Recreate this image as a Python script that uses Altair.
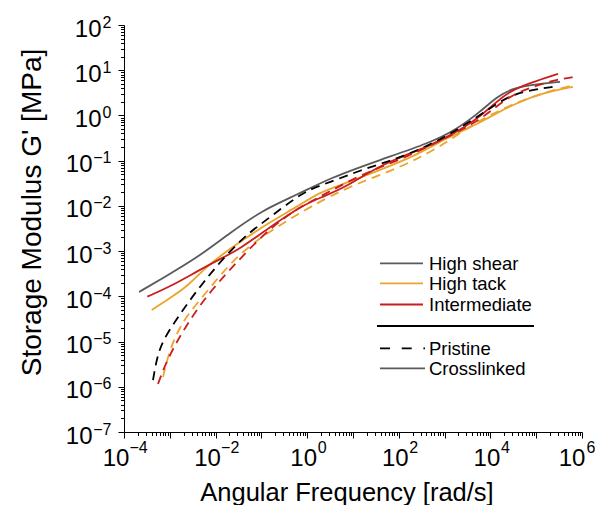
import altair as alt
import pandas as pd

# ---- data (Angular frequency [rad/s], G' [MPa]) ----
hs_cross_x = [2.13e-4, 7.11e-4, 3.93e-3, 2.06e-2, 0.108, 0.598, 3.15, 38.9, 480, 1774, 5929, 13930, 31120, 121100, 331100]
hs_cross_y = [1.25e-4, 2.55e-4, 7.08e-4, 2.53e-3, 8.17e-3, 1.75e-2, 4.16e-2, 0.104, 0.248, 0.480, 1.20, 2.58, 4.08, 5.00, 5.53]

hs_pris_x = [4.30e-4, 5.26e-4, 7.11e-4, 1.51e-3, 2.76e-3, 5.31e-3, 1.25e-2, 3.96e-2, 8.02e-2, 0.179, 0.421, 1.04, 2.84, 20.2, 123.6, 794, 2168, 7621, 26790, 85110, 232800]
hs_pris_y = [1.41e-6, 4.56e-6, 1.08e-5, 3.50e-5, 8.32e-5, 1.98e-4, 5.77e-4, 1.96e-3, 3.43e-3, 6.32e-3, 1.22e-2, 2.26e-2, 3.23e-2, 6.93e-2, 0.121, 0.288, 0.532, 1.20, 2.86, 3.68, 4.30]

ht_cross_x = [4.03e-4, 1.01e-3, 2.38e-3, 7.55e-3, 3.41e-2, 0.154, 0.598, 1.90, 7.40, 38.9, 204, 1127, 5929, 31120, 172200, 635300]
ht_cross_y = [5.00e-5, 9.23e-5, 1.61e-4, 5.48e-4, 1.60e-3, 4.43e-3, 9.51e-3, 2.04e-2, 3.23e-2, 6.25e-2, 0.121, 0.319, 0.685, 1.81, 3.33, 4.30]

ht_pris_x = [7.11e-4, 9.62e-4, 1.44e-3, 2.26e-3, 4.56e-3, 1.13e-2, 2.28e-2, 6.56e-2, 0.255, 1.15, 8.59, 106, 794, 2931, 9795, 44260, 200000, 703100]
ht_pris_y = [1.65e-6, 5.89e-6, 1.55e-5, 3.50e-5, 8.32e-5, 2.55e-4, 5.77e-4, 1.52e-3, 3.80e-3, 9.51e-3, 2.77e-2, 6.93e-2, 0.202, 0.506, 1.03, 2.10, 3.50, 4.75]

int_cross_x = [3.23e-4, 1.01e-3, 3.93e-3, 1.25e-2, 3.41e-2, 0.154, 0.895, 2.21, 8.59, 38.9, 480, 1524, 4169, 9795, 24210, 73280, 299200]
int_cross_y = [9.84e-5, 1.64e-4, 3.56e-4, 6.71e-4, 1.12e-3, 3.43e-3, 1.11e-2, 1.58e-2, 2.92e-2, 8.07e-2, 0.212, 0.392, 0.721, 1.47, 3.33, 5.26, 8.32]

int_pris_x = [5.52e-4, 7.85e-4, 1.30e-3, 2.15e-3, 4.13e-3, 8.34e-3, 1.77e-2, 3.41e-2, 9.33e-2, 0.255, 0.697, 1.90, 14.2, 106, 794, 3589, 9795, 26790, 73280, 257000, 703100]
int_pris_y = [1.15e-6, 3.03e-6, 8.41e-6, 2.00e-5, 5.53e-5, 1.39e-4, 3.30e-4, 6.71e-4, 1.96e-3, 4.66e-3, 9.51e-3, 1.58e-2, 4.85e-2, 0.104, 0.274, 0.589, 1.20, 2.72, 4.08, 6.14, 7.14]

series_names = ["High shear", "High tack", "Intermediate"]
variant_names = ["Pristine", "Crosslinked"]

# tick labels: base "10" and exponent per decade ('' = no label)
tick_base = "10"
x_tick_exps = ["−4", "", "−2", "", "0", "", "2", "", "4", "", "6"]   # 1e-4 .. 1e6
y_tick_exps = ["−7", "−6", "−5", "−4", "−3", "−2", "−1", "0", "1", "2"]  # 1e-7 .. 1e2

# ---- styling ----
GRAY = "#5a5a5a"
ORANGE = "#EBA42C"
RED = "#CC1D1D"
FONT = "Liberation Sans"

rows = []
def add(series, variant, xs, ys):
    for i, (a, b) in enumerate(zip(xs, ys)):
        rows.append({"x": a, "y": b, "series": series, "variant": variant,
                     "key": series + "|" + variant, "i": i})

add("High shear", "Crosslinked", hs_cross_x, hs_cross_y)
add("High tack", "Crosslinked", ht_cross_x, ht_cross_y)
add("Intermediate", "Crosslinked", int_cross_x, int_cross_y)
add("High shear", "Pristine", hs_pris_x, hs_pris_y)
add("High tack", "Pristine", ht_pris_x, ht_pris_y)
add("Intermediate", "Pristine", int_pris_x, int_pris_y)
df = pd.DataFrame(rows)

keys = ["High shear|Crosslinked", "High tack|Crosslinked", "Intermediate|Crosslinked",
        "High shear|Pristine", "High tack|Pristine", "Intermediate|Pristine"]
key_colors = [GRAY, ORANGE, RED, "black", ORANGE, RED]
color_enc = alt.Color("key:N", scale=alt.Scale(domain=keys, range=key_colors), legend=None)

x_major = [10.0 ** k for k in range(-4, 7)]
x_minor = [m * 10.0 ** k for k in range(-4, 6) for m in range(2, 10)]
y_major = [10.0 ** k for k in range(-7, 3)]
y_minor = [m * 10.0 ** k for k in range(-7, 2) for m in range(2, 10)]

def expr_for(start_exp, labels, base=False):
    expr = "''"
    for j in reversed(range(len(labels))):
        txt = labels[j]
        if base and txt:
            txt = tick_base
        expr = "(round(log(datum.value)/LN10) == %d ? '%s' : %s)" % (start_exp + j, txt, expr)
    return expr

NEG = "datum.value < 0.999"
LAST = "datum.value > 1e5"

xscale = alt.Scale(type="log", domain=[1e-4, 1e6], nice=False)
yscale = alt.Scale(type="log", domain=[1e-7, 1e2], nice=False)

common = dict(grid=False, domainColor="black", tickColor="black", labelColor="black",
              titleColor="black", labelFont=FONT, titleFont=FONT, titleFontWeight="normal",
              tickWidth=1, domainWidth=1, labelFlush=False, labelOverlap=False)

# base axes ("10", major ticks, titles)
x_base_axis = alt.Axis(values=x_major, labelExpr=expr_for(-4, x_tick_exps, True), tickSize=6,
                       orient="bottom", title="Angular Frequency [rad/s]", titleFontSize=25.5,
                       titleBaseline="alphabetic", titleY=68, titleX=222.5,
                       labelFontSize=24, labelPadding=8, labelAlign="center",
                       labelOffset={"condition": [{"test": NEG, "value": -8.5},
                                                  {"test": LAST, "value": -10.5}],
                                    "value": -4},
                       **common)
y_base_axis = alt.Axis(values=y_major, labelExpr=expr_for(-7, y_tick_exps, True), tickSize=6,
                       orient="left", title="Storage Modulus G' [MPa]", titleFontSize=28,
                       titleX=-78, titleY=187, labelFontSize=24, labelAlign="right",
                       labelBaseline="middle", labelOffset=4,
                       labelPadding={"condition": {"test": NEG, "value": 26}, "value": 17},
                       **common)
# exponent axes (superscripts)
x_exp_axis = alt.Axis(values=x_major, labelExpr=expr_for(-4, x_tick_exps), ticks=False, tickSize=0,
                      domain=False, orient="bottom", title="", labelFontSize=16, labelPadding=7,
                      labelAlign="left",
                      labelOffset={"condition": [{"test": NEG, "value": 5},
                                                 {"test": LAST, "value": 4}],
                                   "value": 10},
                      **common)
y_exp_axis = alt.Axis(values=y_major, labelExpr=expr_for(-7, y_tick_exps), ticks=False, tickSize=0,
                      domain=False, orient="left", title="", labelFontSize=16, labelPadding=13,
                      labelAlign="right", labelBaseline="middle", labelOffset=-3,
                      **common)
# minor tick axes
x_minor_axis = alt.Axis(values=x_minor, labels=False, tickSize=3.5, orient="bottom", title="",
                        domain=False, grid=False, tickColor="black")
y_minor_axis = alt.Axis(values=y_minor, labels=False, tickSize=3.5, orient="left", title="",
                        domain=False, grid=False, tickColor="black")

solid = alt.Chart(df[df.variant == "Crosslinked"]).mark_line(
    interpolate="basis", strokeWidth=1.8, clip=True
).encode(
    x=alt.X("x:Q", scale=xscale, axis=x_base_axis),
    y=alt.Y("y:Q", scale=yscale, axis=y_base_axis),
    color=color_enc, order="i:Q",
)

dashed = alt.Chart(df[df.variant == "Pristine"]).mark_line(
    interpolate="basis", strokeWidth=1.8, strokeDash=[9, 6], clip=True
).encode(
    x=alt.X("x:Q", scale=xscale, axis=x_minor_axis),
    y=alt.Y("y:Q", scale=yscale, axis=y_minor_axis),
    color=color_enc, order="i:Q",
)

exp_carrier = alt.Chart(df).mark_point(opacity=0).encode(
    x=alt.X("x:Q", scale=xscale, axis=x_exp_axis),
    y=alt.Y("y:Q", scale=yscale, axis=y_exp_axis),
)

# ---- hand-drawn legend inside the plot ----
one = pd.DataFrame({"a": [0]})
legend_layers = []
row_y = [238.3, 258.3, 279.5]
row_colors = [GRAY, ORANGE, RED]
for name, yy, col in zip(series_names, row_y, row_colors):
    legend_layers.append(alt.Chart(one).mark_rule(color=col, strokeWidth=1.8).encode(
        x=alt.value(256), x2=alt.value(299), y=alt.value(yy)))
    legend_layers.append(alt.Chart(one).mark_text(
        align="left", baseline="alphabetic", font=FONT, fontSize=18.5, color="black").encode(
        x=alt.value(305), y=alt.value(yy + 6.3), text=alt.value(name)))

legend_layers.append(alt.Chart(one).mark_rule(color="black", strokeWidth=2).encode(
    x=alt.value(253), x2=alt.value(410), y=alt.value(301)))

var_y = [323.3, 343.3]
var_style = [("black", [10, 11.7]), (GRAY, [1, 0])]
for name, yy, (col, dash) in zip(variant_names, var_y, var_style):
    legend_layers.append(alt.Chart(one).mark_rule(color=col, strokeWidth=1.8, strokeDash=dash).encode(
        x=alt.value(256), x2=alt.value(301), y=alt.value(yy)))
    legend_layers.append(alt.Chart(one).mark_text(
        align="left", baseline="alphabetic", font=FONT, fontSize=18.5, color="black").encode(
        x=alt.value(305), y=alt.value(yy + 6.3), text=alt.value(name)))

chart = alt.layer(solid, dashed, exp_carrier, *legend_layers).resolve_axis(
    x="independent", y="independent"
).properties(
    width=458, height=407,
    autosize=alt.AutoSizeParams(type="none"),
    padding={"left": 116, "top": 17, "right": 13, "bottom": 73},
).configure_view(stroke=None)

chart.save("out.html", embed_options={"renderer": "svg", "actions": False})
